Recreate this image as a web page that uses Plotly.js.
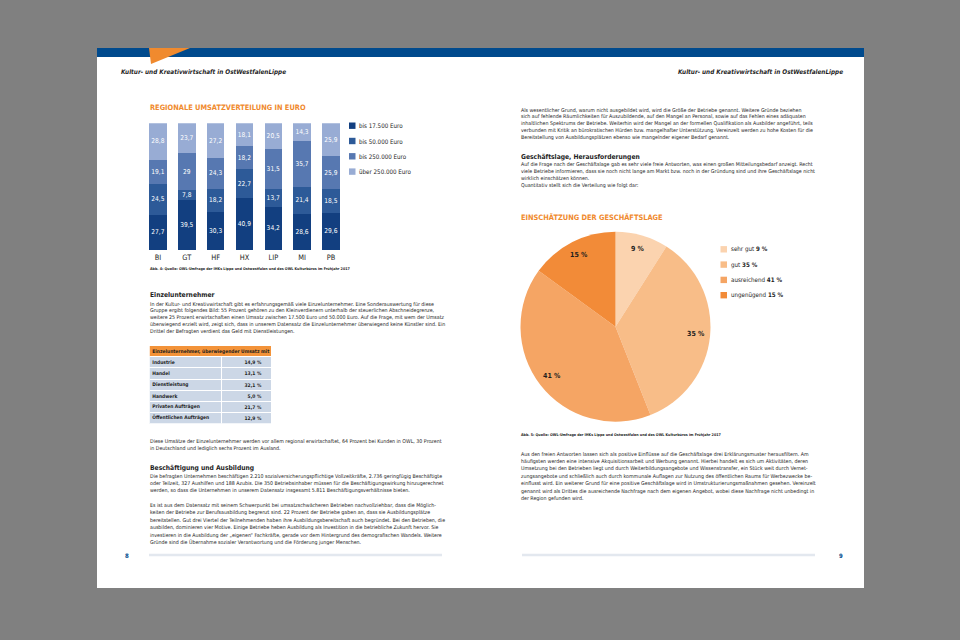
<!DOCTYPE html>
<html><head><meta charset="utf-8">
<script src="https://cdn.plot.ly/plotly-3.0.1.min.js"></script>
<style>html,body{margin:0;padding:0;background:#808080}</style>
</head><body><div id="chart" style="width:960px;height:640px"></div>
<script>
// ---------------- data ----------------
const regions = ['BI','GT','HF','HX','LIP','MI','PB'];
const seriesNames = ['bis 17.500 Euro','bis 50.000 Euro','bis 250.000 Euro','über 250.000 Euro'];
const bis17500   = [27.7,39.5,30.3,40.9,34.2,28.6,29.6];
const bis50000   = [24.5, 7.8,18.2,22.7,13.7,21.4,18.5];
const bis250000  = [19.1,29.0,24.3,18.2,31.5,35.7,25.9];
const ueber250000= [28.8,23.7,27.2,18.1,20.5,14.3,25.9];
const barColors = ['#123f80','#2d5a98','#5778b1','#98acd4'];

const lageLabels = ['sehr gut','gut','ausreichend','ungenügend'];
const lageValues = [9,35,41,15];
const pieColors = ['#fbd3af','#f8bd88','#f5a564','#f28b38'];

const tableLabels = ['Industrie','Handel','Dienstleistung','Handwerk','Privaten Aufträgen','Öffentlichen Aufträgen'];
const tableValues = [14.9,13.1,32.1,5.0,21.7,12.9];

const headerText = 'Kultur- und Kreativwirtschaft in OstWestfalenLippe';
const barTitle = 'REGIONALE UMSATZVERTEILUNG IN EURO';
const pieTitle = 'EINSCHÄTZUNG DER GESCHÄFTSLAGE';
const tableTitle = 'Einzelunternehmer, überwiegender Umsatz mit';
const caption4 = 'Abb. 4: Quelle: OWL-Umfrage der IHKs Lippe und Ostwestfalen und des OWL Kulturbüros im Frühjahr 2017';
const caption5 = 'Abb. 5: Quelle: OWL-Umfrage der IHKs Lippe und Ostwestfalen und des OWL Kulturbüros im Frühjahr 2017';

const textEinzel = [
 'In der Kultur- und Kreativwirtschaft gibt es erfahrungsgemäß viele Einzelunternehmer. Eine Sonderauswertung für diese',
 'Gruppe ergibt folgendes Bild: 55 Prozent gehören zu den Kleinverdienern unterhalb der steuerlichen Abschneidegrenze,',
 'weitere 25 Prozent erwirtschaften einen Umsatz zwischen 17.500 Euro und 50.000 Euro. Auf die Frage, mit wem der Umsatz',
 'überwiegend erzielt wird, zeigt sich, dass in unserem Datensatz die Einzelunternehmer überwiegend keine Künstler sind. Ein',
 'Drittel der Befragten verdient das Geld mit Dienstleistungen.'];
const textUmsaetze = [
 'Diese Umsätze der Einzelunternehmer werden vor allem regional erwirtschaftet, 64 Prozent bei Kunden in OWL, 30 Prozent',
 'in Deutschland und lediglich sechs Prozent im Ausland.'];
const textBesch = [
 'Die befragten Unternehmen beschäftigen 2.210 sozialversicherungspflichtige Vollzeitkräfte, 2.736 geringfügig Beschäftigte',
 'oder Teilzeit, 327 Aushilfen und 188 Azubis. Die 350 Betriebsinhaber müssen für die Beschäftigungswirkung hinzugerechnet',
 'werden, so dass die Unternehmen in unserem Datensatz insgesamt 5.811 Beschäftigungsverhältnisse bieten.'];
const textAusb = [
 'Es ist aus dem Datensatz mit seinem Schwerpunkt bei umsatzschwächeren Betrieben nachvollziehbar, dass die Möglich-',
 'keiten der Betriebe zur Berufsausbildung begrenzt sind. 22 Prozent der Betriebe gaben an, dass sie Ausbildungsplätze',
 'bereitstellen. Gut drei Viertel der Teilnehmenden haben ihre Ausbildungsbereitschaft auch begründet. Bei den Betrieben, die',
 'ausbilden, dominieren vier Motive. Einige Betriebe heben Ausbildung als Investition in die betriebliche Zukunft hervor. Sie',
 'investieren in die Ausbildung der „eigenen“ Fachkräfte, gerade vor dem Hintergrund des demografischen Wandels. Weitere',
 'Gründe sind die Übernahme sozialer Verantwortung und die Förderung junger Menschen.'];
const textGrund = [
 'Als wesentlicher Grund, warum nicht ausgebildet wird, wird die Größe der Betriebe genannt. Weitere Gründe beziehen',
 'sich auf fehlende Räumlichkeiten für Auszubildende, auf den Mangel an Personal, sowie auf das Fehlen eines adäquaten',
 'inhaltlichen Spektrums der Betriebe. Weiterhin wird der Mangel an der formellen Qualifikation als Ausbilder angeführt, teils',
 'verbunden mit Kritik an bürokratischen Hürden bzw. mangelhafter Unterstützung. Vereinzelt werden zu hohe Kosten für die',
 'Bereitstellung von Ausbildungsplätzen ebenso wie mangelnder eigener Bedarf genannt.'];
const textLage = [
 'Auf die Frage nach der Geschäftslage gab es sehr viele freie Antworten, was einen großen Mitteilungsbedarf anzeigt. Recht',
 'viele Betriebe informieren, dass sie noch nicht lange am Markt bzw. noch in der Gründung sind und ihre Geschäftslage nicht',
 'wirklich einschätzen können.',
 'Quantitativ stellt sich die Verteilung wie folgt dar:'];
const textFrei = [
 'Aus den freien Antworten lassen sich als positive Einflüsse auf die Geschäftslage drei Erklärungsmuster herausfiltern. Am',
 'häufigsten werden eine intensive Akquisitionsarbeit und Werbung genannt. Hierbei handelt es sich um Aktivitäten, deren',
 'Umsetzung bei den Betrieben liegt und durch Weiterbildungsangebote und Wissenstransfer, ein Stück weit durch Vernet-',
 'zungsangebote und schließlich auch durch kommunale Auflagen zur Nutzung des öffentlichen Raums für Werbezwecke be-',
 'einflusst wird. Ein weiterer Grund für eine positive Geschäftslage wird in Umstrukturierungsmaßnahmen gesehen. Vereinzelt',
 'genannt wird als Drittes die ausreichende Nachfrage nach dem eigenen Angebot, wobei diese Nachfrage nicht unbedingt in',
 'der Region gefunden wird.'];

// ---------------- helpers ----------------
const W = 960, H = 640;
const FONT = "'Liberation Sans Narrow', 'DejaVu Sans Condensed', 'Arial Narrow', sans-serif";
const px = v => v / W;
const py = v => 1 - v / H;
const de = v => String(v).replace('.', ',');
const TXT = '#1e1e1e', ORANGE = '#f08a2e', BLUE = '#004a8d';
const BODY = 5.25, HEAD = 6.7, TITLE = 7.4, CAP = 3.7, RUN = 6.35;

const annotations = [];
function label(x, y, text, size, opts = {}) {
  annotations.push(Object.assign({
    xref: 'paper', yref: 'paper', x: px(x), y: py(y), text: text, showarrow: false,
    xanchor: 'left', yanchor: 'middle', align: 'left', borderpad: 0,
    font: {family: FONT, size: size, color: TXT}
  }, opts));
}
function block(x, yFirst, step, lines, size) {
  lines.forEach((ln, i) => label(x, yFirst + i * step, ln, size));
}

// page & decorations
const shapes = [
  {type:'rect', xref:'paper', yref:'paper', x0:px(97), x1:px(864), y0:py(588), y1:py(48), fillcolor:'#ffffff', line:{width:0}, layer:'below'},
  {type:'rect', xref:'paper', yref:'paper', x0:px(97), x1:px(864), y0:py(57), y1:py(48), fillcolor:BLUE, line:{width:0}, layer:'below'},
  {type:'path', xref:'paper', yref:'paper', path:`M ${px(149)},${py(48)} L ${px(190)},${py(48)} L ${px(151)},${py(64)} Z`, fillcolor:ORANGE, line:{width:0}, layer:'below'},
  {type:'line', xref:'paper', yref:'paper', x0:px(149), x1:px(442), y0:py(555), y1:py(555), line:{color:'#e3e8ef', width:2.5}},
  {type:'line', xref:'paper', yref:'paper', x0:px(522), x1:px(815), y0:py(555), y1:py(555), line:{color:'#e3e8ef', width:2.5}}
];

// running headers
label(120, 72, '<b><i>' + headerText + '</i></b>', RUN);
label(844, 72, '<b><i>' + headerText + '</i></b>', RUN, {xanchor:'right', align:'right'});

// texts, left page
label(149, 108, '<b>' + barTitle + '</b>', TITLE, {font:{family:FONT, size:TITLE, color:ORANGE}});
label(149, 269, '<b>' + caption4 + '</b>', CAP);
label(149, 295, '<b>Einzelunternehmer</b>', HEAD);
block(149, 304, 6.95, textEinzel, BODY);
block(149, 441, 7.3, textUmsaetze, BODY);
label(149, 468, '<b>Beschäftigung und Ausbildung</b>', HEAD);
block(149, 476, 7.2, textBesch, BODY);
block(149, 505, 7.5, textAusb, BODY);
label(124, 555, '<b>8</b>', 6, {font:{family:FONT, size:6, color:BLUE}});

// texts, right page
block(520, 110, 6.9, textGrund, BODY);
label(520, 157, '<b>Geschäftslage, Herausforderungen</b>', HEAD);
block(520, 164.5, 6.9, textLage, BODY);
label(520, 217, '<b>' + pieTitle + '</b>', TITLE, {font:{family:FONT, size:TITLE, color:ORANGE}});
label(520, 435, '<b>' + caption5 + '</b>', CAP);
block(520, 454, 7.4, textFrei, BODY);
label(838, 555, '<b>9</b>', 6, {font:{family:FONT, size:6, color:BLUE}});

// custom legends (built from series arrays)
seriesNames.forEach((n, i) => {
  const yc = 125.7 + i * 15.3;
  shapes.push({type:'rect', xref:'paper', yref:'paper', x0:px(349), x1:px(355.5), y0:py(yc + 3.2), y1:py(yc - 3.2), fillcolor:barColors[i], line:{width:0}});
  label(358, yc, n, 6.2);
});
lageLabels.forEach((n, i) => {
  const yc = 249.3 + i * 15.3;
  shapes.push({type:'rect', xref:'paper', yref:'paper', x0:px(720.5), x1:px(727), y0:py(yc + 3.2), y1:py(yc - 3.2), fillcolor:pieColors[i], line:{width:0}});
  label(730, yc, n + ' <b>' + lageValues[i] + ' %</b>', 6.2);
});

// ---------------- traces ----------------
const series = [bis17500, bis50000, bis250000, ueber250000];
const traces = series.map((vals, i) => ({
  type:'bar', x: regions, y: vals, name: seriesNames[i],
  marker:{color: barColors[i], line:{width:0}},
  text: vals.map(de), textposition:'inside', insidetextanchor:'middle', constraintext:'none',
  textangle: 0, textfont:{family:FONT, size:6.6, color:'#ffffff'},
  hoverinfo:'none', xaxis:'x', yaxis:'y'
}));

// pie (slice labels placed on the pie's own geometry from the values)
const PIE = {cx:615.5, cy:326.7, r:95};
traces.push({
  type:'pie', labels: lageLabels, values: lageValues, sort:false, direction:'clockwise', rotation:0,
  marker:{colors: pieColors, line:{width:0}}, textinfo:'none',
  domain:{x:[px(PIE.cx - PIE.r), px(PIE.cx + PIE.r)], y:[py(PIE.cy + PIE.r), py(PIE.cy - PIE.r)]},
  hoverinfo:'none', showlegend:false
});
const pieTotal = lageValues.reduce((a, b) => a + b, 0);
let cum = 0;
lageValues.forEach(v => {
  const th = (cum + v / 2) / pieTotal * 2 * Math.PI; cum += v;
  const rr = 0.85 * PIE.r;
  label(PIE.cx + rr * Math.sin(th), PIE.cy - rr * Math.cos(th), '<b>' + v + ' %</b>', 7, {xanchor:'center'});
});

// table drawn as stacked horizontal bars (one row per category)
const COL1 = 72.5, COL2 = 49.5, HDR = '#f39339', CELL = '#ccd7e6';
const tableRows = [tableTitle].concat(tableLabels);
const TFONT = {family:FONT, size:4.9, color:TXT};
traces.push({
  type:'bar', orientation:'h', xaxis:'x2', yaxis:'y2', y: tableRows,
  x: tableRows.map((r, i) => i === 0 ? COL1 + COL2 : COL1), width: 1,
  marker:{color: tableRows.map((r, i) => i === 0 ? HDR : CELL), line:{color:'#ffffff', width:1}},
  text: tableRows.map(s => '<b>' + s + '</b>'), textposition:'inside', insidetextanchor:'start',
  constraintext:'none', textfont: TFONT, hoverinfo:'none'
});
traces.push({
  type:'bar', orientation:'h', xaxis:'x2', yaxis:'y2', y: tableRows,
  x: tableRows.map((r, i) => i === 0 ? null : COL2), width: 1,
  marker:{color: CELL, line:{color:'#ffffff', width:1}},
  text: [''].concat(tableValues.map(v => '<b>' + v.toFixed(1).replace('.', ',') + ' %</b>\u00a0\u00a0\u00a0\u00a0\u00a0')),
  textposition:'inside', insidetextanchor:'end', constraintext:'none', textfont: TFONT, hoverinfo:'none'
});

const layout = {
  width: W, height: H, margin:{l:0, r:0, t:0, b:0},
  paper_bgcolor:'#808080', plot_bgcolor:'rgba(0,0,0,0)',
  showlegend:false, barmode:'stack', bargap:0.39,
  xaxis:{domain:[px(143.6), px(345.4)], type:'category', showline:false, showgrid:false, zeroline:false,
         ticks:'', ticklabelstandoff:2, tickfont:{family:FONT, size:7.4, color:TXT}, fixedrange:true},
  yaxis:{domain:[py(250), py(123.3)], range:[0,100], visible:false, fixedrange:true},
  xaxis2:{domain:[px(149.3), px(271.3)], range:[0, COL1 + COL2], visible:false, fixedrange:true, anchor:'y2'},
  yaxis2:{domain:[py(423.5), py(345.7)], type:'category', autorange:'reversed', visible:false, fixedrange:true, anchor:'x2'},
  shapes: shapes, annotations: annotations
};

Plotly.newPlot('chart', traces, layout, {displayModeBar:false, staticPlot:true});
</script></body></html>
